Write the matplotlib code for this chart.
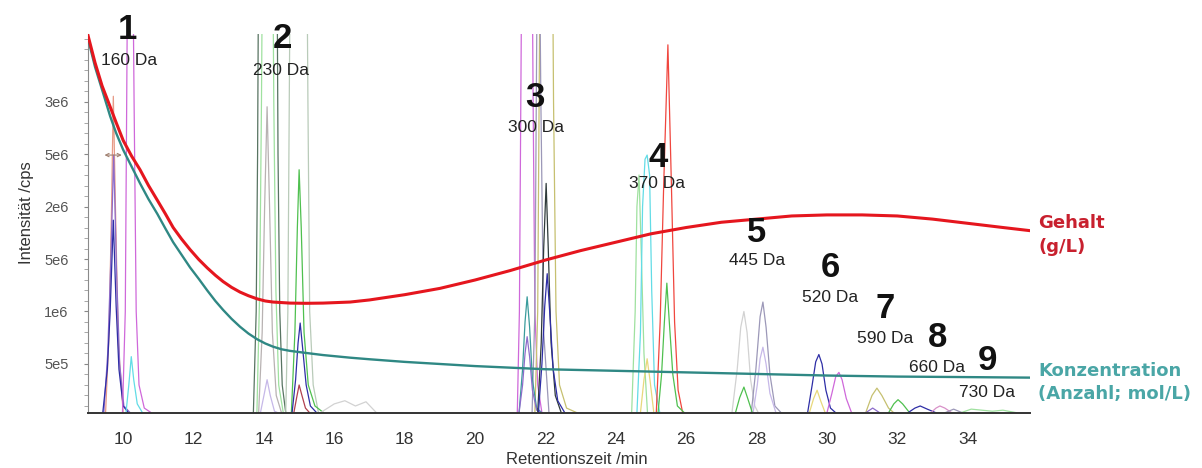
import matplotlib
matplotlib.use("Agg")
import matplotlib.pyplot as plt
from matplotlib.ticker import MultipleLocator

plt.rcParams['font.family'] = ['Liberation Sans', 'DejaVu Sans']

# Gehalt (g/L) – rote Kurve, in Einheiten der Intensitätsachse (1e6 cps)
gehalt_rt = [9.0, 9.2, 9.4, 9.63, 9.8, 10.0, 10.24, 10.48, 10.72, 10.97, 11.2, 11.42, 11.66,
             11.9, 12.15, 12.39, 12.62, 12.84, 13.08, 13.32, 13.56, 13.81, 14.04, 14.26,
             14.5, 14.74, 15.2, 15.68, 16.45, 17.0, 18.0, 19.0, 20.0, 21.0, 22.0, 23.0,
             24.0, 25.0, 26.0, 27.0, 28.0, 29.0, 30.0, 31.0, 32.0, 33.0, 34.0, 35.0, 35.77]
gehalt_int = [3.63, 3.37, 3.15, 2.95, 2.80, 2.63, 2.48, 2.35, 2.20, 2.06, 1.93, 1.80, 1.69,
              1.59, 1.495, 1.415, 1.345, 1.285, 1.23, 1.185, 1.15, 1.12, 1.10, 1.09,
              1.085, 1.08, 1.078, 1.08, 1.09, 1.11, 1.16, 1.22, 1.30, 1.39, 1.49, 1.58,
              1.66, 1.74, 1.80, 1.85, 1.88, 1.91, 1.92, 1.92, 1.91, 1.88, 1.84, 1.80, 1.77]

# Konzentration (Anzahl; mol/L) – petrolfarbene Kurve
konz_rt = [9.0, 9.2, 9.43, 9.63, 9.8, 10.0, 10.24, 10.48, 10.72, 10.97, 11.2, 11.42, 11.66,
           11.9, 12.15, 12.39, 12.62, 12.84, 13.08, 13.32, 13.56, 13.81, 14.04, 14.26,
           14.5, 14.74, 15.2, 15.68, 16.45, 17.0, 18.0, 19.0, 20.0, 22.0, 24.0, 26.0,
           28.0, 30.0, 32.0, 34.0, 35.77]
konz_int = [3.60, 3.33, 3.08, 2.86, 2.70, 2.54, 2.38, 2.22, 2.07, 1.93, 1.79, 1.66, 1.54,
            1.42, 1.31, 1.20, 1.10, 1.015, 0.93, 0.855, 0.79, 0.735, 0.695, 0.665,
            0.64, 0.625, 0.605, 0.585, 0.56, 0.545, 0.52, 0.50, 0.48, 0.45, 0.435, 0.42,
            0.405, 0.39, 0.38, 0.375, 0.37]

# Chromatogramm-Spuren je Peakgruppe: Name -> (Retentionszeit, Intensität / 1e6 cps)
b = 0.035
gruppe_1 = {
    "lachs": ([9.5, 9.6, 9.67, 9.72, 9.78, 9.86, 10.0], [b, 0.8, 2.0, 3.05, 2.0, 0.7, b]),
    "lila": ([9.45, 9.56, 9.65, 9.73, 9.81, 9.9, 10.02, 10.2], [b, 0.6, 1.5, 2.49, 1.4, 0.5, 0.1, b]),
    "blau": ([9.42, 9.55, 9.63, 9.72, 9.8, 9.88, 10.0, 10.15], [b, 0.45, 1.0, 1.87, 1.05, 0.45, 0.1, b]),
    "magenta": ([9.98, 10.06, 10.1, 10.13, 10.27, 10.31, 10.37, 10.45, 10.6, 10.8],
                [b, 1.0, 3.0, 4.5, 4.5, 3.0, 1.0, 0.3, 0.08, b]),
    "cyan": ([10.08, 10.16, 10.23, 10.3, 10.4, 10.55], [b, 0.3, 0.57, 0.35, 0.12, b]),
}
gruppe_2 = {
    "dunkelgruen": ([13.7, 13.78, 13.82, 13.85, 14.37, 14.4, 14.45, 14.52, 14.62],
                    [b, 1.0, 2.5, 4.5, 4.5, 2.5, 1.0, 0.3, b]),
    "hellgruen": ([13.8, 13.88, 13.93, 13.96, 14.25, 14.28, 14.34, 14.42, 14.55],
                  [b, 1.2, 3.0, 4.5, 4.5, 3.0, 1.2, 0.3, b]),
    "grau": ([13.85, 13.95, 14.02, 14.09, 14.16, 14.24, 14.35, 14.5], [b, 0.8, 2.0, 2.95, 2.0, 0.8, 0.2, b]),
    "helllila": ([13.9, 14.0, 14.09, 14.18, 14.3, 14.4], [b, 0.2, 0.35, 0.2, 0.05, b]),
    "graugruen": ([14.62, 14.68, 14.72, 14.75, 15.22, 15.25, 15.3, 15.4, 15.55],
                  [b, 1.0, 3.0, 4.5, 4.5, 3.0, 1.0, 0.3, b]),
    "gruen": ([14.78, 14.88, 14.95, 15.0, 15.06, 15.14, 15.26, 15.45, 15.7],
              [b, 0.8, 1.8, 2.35, 1.8, 0.8, 0.3, 0.1, b]),
    "blau": ([14.8, 14.9, 14.97, 15.03, 15.1, 15.2, 15.32, 15.5], [b, 0.35, 0.7, 0.89, 0.65, 0.3, 0.1, b]),
    "weinrot": ([14.85, 14.93, 15.0, 15.08, 15.18, 15.3], [b, 0.18, 0.3, 0.2, 0.08, b]),
    "hellgrau": ([15.6, 16.0, 16.3, 16.6, 16.9, 17.2], [b, 0.12, 0.15, 0.1, 0.14, b]),
}
gruppe_3 = {
    "magenta": ([21.2, 21.26, 21.3, 21.33, 21.62, 21.65, 21.7, 21.78, 21.9],
                [b, 1.0, 3.0, 4.5, 4.5, 3.0, 1.0, 0.3, b]),
    "oliv": ([21.7, 21.78, 21.82, 21.85, 22.2, 22.23, 22.3, 22.4, 22.6, 22.9],
             [b, 1.0, 3.0, 4.5, 4.5, 3.0, 1.0, 0.3, 0.08, b]),
    "graulila": ([21.62, 21.7, 21.74, 21.77, 21.83, 21.87, 21.95, 22.1],
                 [b, 1.0, 3.0, 4.5, 4.5, 3.0, 0.8, b]),
    "petrol": ([21.25, 21.35, 21.42, 21.48, 21.55, 21.63, 21.75, 21.9], [b, 0.45, 0.9, 1.14, 0.85, 0.35, 0.08, b]),
    "lila": ([21.25, 21.35, 21.42, 21.48, 21.55, 21.63, 21.75, 21.9], [b, 0.3, 0.6, 0.76, 0.57, 0.25, 0.06, b]),
    "dunkel": ([21.78, 21.88, 21.95, 22.02, 22.08, 22.16, 22.28, 22.45], [b, 0.7, 1.6, 2.22, 1.6, 0.7, 0.2, b]),
    "blau": ([21.8, 21.9, 21.98, 22.05, 22.12, 22.22, 22.35, 22.55], [b, 0.5, 1.05, 1.36, 1.0, 0.45, 0.15, b]),
}
gruppe_4 = {
    "hellgruen": ([24.45, 24.55, 24.6, 24.66, 24.72, 24.8, 24.9], [b, 1.0, 2.0, 2.3, 1.6, 0.6, b]),
    "cyan": ([24.6, 24.7, 24.76, 24.83, 24.89, 24.96, 25.02, 25.1, 25.25], [b, 0.8, 2.0, 2.45, 2.49, 2.3, 1.2, 0.3, b]),
    "gelb": ([24.7, 24.8, 24.89, 24.97, 25.08], [b, 0.35, 0.55, 0.35, b]),
    "rot": ([25.15, 25.26, 25.36, 25.48, 25.58, 25.67, 25.77, 25.9], [b, 0.9, 2.2, 3.54, 2.2, 0.9, 0.25, b]),
    "gruen": ([25.2, 25.3, 25.38, 25.45, 25.52, 25.62, 25.75, 25.95], [b, 0.4, 0.9, 1.27, 0.9, 0.4, 0.1, b]),
}
gruppe_5 = {
    "hellgrau": ([27.3, 27.45, 27.55, 27.64, 27.73, 27.83, 27.95, 28.05], [b, 0.45, 0.85, 1.0, 0.8, 0.35, 0.1, b]),
    "graulila": ([27.85, 27.98, 28.1, 28.18, 28.27, 28.38, 28.52, 28.7], [b, 0.45, 0.95, 1.09, 0.85, 0.4, 0.1, b]),
    "helllila": ([27.9, 28.02, 28.1, 28.18, 28.27, 28.38, 28.55], [b, 0.3, 0.55, 0.66, 0.5, 0.22, b]),
    "gruen": ([27.4, 27.52, 27.64, 27.75, 27.88], [b, 0.18, 0.28, 0.17, b]),
}
gruppe_6 = {
    "blau": ([29.45, 29.58, 29.68, 29.77, 29.86, 29.97, 30.1, 30.25], [b, 0.3, 0.52, 0.59, 0.5, 0.25, 0.08, b]),
    "magenta": ([30.0, 30.14, 30.25, 30.34, 30.43, 30.55, 30.7], [b, 0.22, 0.38, 0.42, 0.35, 0.17, b]),
    "gelb": ([29.5, 29.62, 29.72, 29.82, 29.95], [b, 0.17, 0.25, 0.15, b]),
}
gruppe_7_9 = {
    "oliv": ([31.1, 31.28, 31.42, 31.56, 31.75, 31.9], [b, 0.2, 0.27, 0.2, 0.08, b]),
    "lila": ([31.1, 31.3, 31.5], [b, 0.08, b]),
    "gruen": ([31.75, 31.9, 32.02, 32.15, 32.35], [b, 0.12, 0.16, 0.12, b]),
    "blau": ([32.3, 32.5, 32.65, 32.85, 33.1], [b, 0.08, 0.1, 0.07, b]),
    "rosa": ([32.95, 33.1, 33.21, 33.35, 33.55], [b, 0.08, 0.1, 0.08, b]),
    "graulila": ([33.35, 33.6, 33.85], [b, 0.07, b]),
    "hellgruen": ([33.8, 34.1, 34.4, 34.7, 35.0, 35.4], [b, 0.07, 0.06, 0.05, 0.06, b]),
}

# Peakbeschriftungen
peak_nr = ["1", "2", "3", "4", "5", "6", "7", "8", "9"]
peak_da = ["160 Da", "230 Da", "300 Da", "370 Da", "445 Da", "520 Da", "590 Da", "660 Da", "730 Da"]
nr_rt = [10.11, 14.52, 21.70, 25.20, 28.01, 30.09, 31.65, 33.13, 34.55]
nr_y = [3.60, 3.51, 2.95, 2.38, 1.66, 1.33, 0.94, 0.66, 0.44]
da_rt = [10.17, 14.49, 21.73, 25.17, 28.01, 30.09, 31.65, 33.13, 34.55]
da_y = [3.35, 3.25, 2.71, 2.18, 1.44, 1.09, 0.70, 0.42, 0.19]

y_ticks = [0.5, 1.0, 1.5, 2.0, 2.5, 3.0]
y_tick_labels = ["5e5", "1e6", "5e6", "2e6", "5e6", "3e6"]

farben = {
    "blau": "#2e2ea6", "lila": "#8d6ccb", "lachs": "#e79a86", "magenta": "#cf68da",
    "cyan": "#62dce6", "dunkelgruen": "#587462", "hellgruen": "#9fe19f", "grau": "#b8b2b2",
    "hellgrau": "#d2d2d2", "helllila": "#c6b8e8", "gruen": "#4fc04f", "weinrot": "#b0404e",
    "oliv": "#c6c070", "dunkel": "#2f3a3a", "petrol": "#3a9c9c", "gelb": "#e8d87c",
    "rot": "#f0463e", "graulila": "#9c98b8", "rosa": "#d890c8", "graugruen": "#b9cbb9",
}

fig = plt.figure(figsize=(12.02, 4.68), dpi=100)
ax = fig.add_axes([0.0732, 0.1175, 0.7837, 0.8098])

for gruppe in [gruppe_1, gruppe_2, gruppe_3, gruppe_4, gruppe_5, gruppe_6, gruppe_7_9]:
    for name, (rt, inten) in gruppe.items():
        ax.plot(rt, inten, color=farben[name], lw=0.9, zorder=2)

ax.plot(konz_rt, konz_int, color="#2f8884", lw=1.7, zorder=4)
ax.plot(gehalt_rt, gehalt_int, color="#e5161e", lw=2.2, zorder=5)

# Breitenmarkierung am ersten Peak
ax.annotate("", xy=(9.47, 2.49), xytext=(9.96, 2.49),
            arrowprops=dict(arrowstyle="<->", color="#a08070", lw=0.8, mutation_scale=6,
                            shrinkA=0, shrinkB=0))

for nr, x, y in zip(peak_nr, nr_rt, nr_y):
    ax.text(x, y, nr, fontsize=25, fontweight="bold", ha="center", va="baseline",
            color="#111111", clip_on=False, zorder=6)
for da, x, y in zip(peak_da, da_rt, da_y):
    ax.text(x, y, da, fontsize=12.5, ha="center", va="baseline", color="#222222",
            clip_on=False, zorder=6)

legende = dict(fontsize=13, fontweight="bold", ha="left", va="baseline",
               clip_on=False, family="DejaVu Sans")
ax.text(36.0, 1.80, "Gehalt", color="#c8202e", **legende)
ax.text(36.0, 1.57, "(g/L)", color="#c8202e", **legende)
ax.text(36.0, 0.386, "Konzentration", color="#4aa6a6", **legende)
ax.text(36.0, 0.167, "(Anzahl; mol/L)", color="#4aa6a6", **legende)

ax.set_xlim(9.0, 35.77)
ax.set_ylim(0.033, 3.643)
ax.set_xticks(range(10, 35, 2))
ax.set_yticks(y_ticks)
ax.set_yticklabels(y_tick_labels)
ax.yaxis.set_minor_locator(MultipleLocator(0.1))

ax.tick_params(axis="x", length=0, pad=14, labelsize=12.5, labelcolor="#333333")
ax.tick_params(axis="y", which="major", length=3, pad=11, labelsize=10.5,
               labelcolor="#555555", color="#888888")
ax.tick_params(axis="y", which="minor", length=3, color="#999999")

for s in ["top", "right"]:
    ax.spines[s].set_visible(False)
ax.spines["left"].set_color("#8a8a8a")
ax.spines["bottom"].set_color("#333333")
ax.spines["bottom"].set_linewidth(1.4)

ax.set_xlabel("Retentionszeit /min", fontsize=12, color="#333333")
ax.set_ylabel("Intensität /cps", fontsize=12, color="#333333")
ax.xaxis.set_label_coords(0.519, -0.103)
ax.yaxis.set_label_coords(-0.0573, 0.53)

fig.savefig("out.png", dpi=100)
